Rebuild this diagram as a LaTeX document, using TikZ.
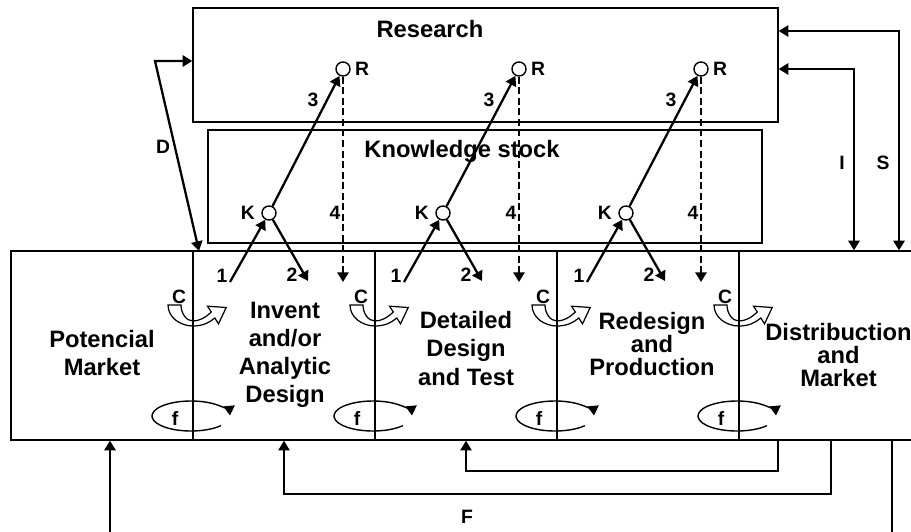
\documentclass[tikz,border=0pt]{standalone}
\usepackage{fontspec}
\setmainfont{Liberation Sans}
\usetikzlibrary{arrows.meta,positioning}

\begin{document}
\begin{tikzpicture}[
    >={Triangle[length=5.5pt,width=6.4pt]},
    box/.style={draw, line width=0.8pt, inner sep=0pt},
    title/.style={font=\fontsize{13.5}{16}\selectfont\bfseries},
    stage/.style={align=center, font=\fontsize{13.5}{16}\selectfont\bfseries},
    tight/.style={font=\fontsize{13.5}{13.2}\selectfont\bfseries},
    lab/.style={font=\fontsize{11}{12}\selectfont\bfseries, inner sep=0pt},
    dot/.style={draw, circle, fill=white, line width=0.8pt, minimum size=0.28cm, inner sep=0pt},
    flow/.style={->, line width=1.3pt},
    back/.style={->, line width=0.9pt},
    hollow/.style={draw, fill=white, line width=0.7pt}
]
    \useasboundingbox (0,0) rectangle (18.22,-10.62);

    % Boxes
    \node[box, minimum width=11.70cm, minimum height=2.28cm] (research) at (9.71,-1.30) {};
    \node[box, minimum width=11.08cm, minimum height=2.26cm] (stock) at (9.70,-3.73) {};
    \node[box, minimum width=18.40cm, minimum height=3.78cm] (main) at (9.42,-6.91) {};
    \node[title, anchor=base] (restitle) at (8.60,-0.74) {Research};
    \node[title, anchor=base] (stocktitle) at (9.24,-3.15) {Knowledge stock};

    % Stages
    \node[stage] (market) at (2.04,-7.06) {Potencial\\Market};
    \node[stage] (invent) at (5.70,-7.10) {Invent\\and/or\\Analytic\\Design};
    \node[stage] (detail) at (9.32,-6.97) {Detailed\\Design\\and Test};
    \node[stage, tight] (redesign) at (13.04,-6.88) {Redesign\\and\\Production};
    \node[stage, tight] (distrib) at (16.77,-7.10) {Distribuction\\and\\Market};

    % C turns and f loops at each border
    \foreach \d [count=\i] in {3.86,7.50,11.14,14.78} {
        \begin{scope}[shift={(\d,-6.52)}, x=0.02cm, y=-0.02cm]
            \draw[hollow] (-25,-21) .. controls (-25,-8) and (-12,0) .. (0,0)
                .. controls (9,0) and (16,-3) .. (21.8,-8) -- (25.5,-2.2) -- (33.2,-18.5)
                -- (14.5,-19.8) -- (18.3,-14) .. controls (12,-8) and (6,-5) .. (0,-5)
                .. controls (-7,-5) and (-12,-13) .. (-12,-21) -- cycle;
        \end{scope}
        \node[lab] (c\i) at (\d-0.28,-5.94) {C};
        \draw[->, line width=0.8pt] (\d-0.04,-8.32) ++(-40:0.78 and 0.30)
            arc[start angle=-40, end angle=-358, x radius=0.78, y radius=0.30];
        \node[lab] (f\i) at (\d-0.36,-8.36) {f};
        \draw[line width=0.8pt] (\d,0 |- main.north) -- (\d,0 |- main.south);
    }

    % Knowledge and research links
    \foreach \i/\kx/\rx in {1/5.38/6.86, 2/8.86/10.38, 3/12.52/14.02} {
        \node[dot] (K\i) at (\kx,-4.26) {};
        \node[dot] (R\i) at (\rx,-1.38) {};
        \node[lab, left=0.12cm of K\i] (kl\i) {K};
        \node[lab, right=0.08cm of R\i] (rl\i) {R};
        \coordinate (in\i) at (\kx-0.78,-5.64);
        \coordinate (out\i) at (\kx+0.78,-5.62);
        \coordinate (ret\i) at (\rx,-5.64);
        \draw[flow] (in\i) -- (K\i);
        \draw[flow] (K\i) -- (out\i);
        \draw[flow] (K\i) -- (R\i);
        \draw[flow, dash pattern=on 4pt off 2pt] (R\i) -- (ret\i);
        \node[lab] (one\i) at (\kx-0.94,-5.52) {1};
        \node[lab] (two\i) at (\kx+0.46,-5.50) {2};
        \node[lab] (three\i) at (\rx-0.60,-2.00) {3};
        \node[lab] (four\i) at (\rx-0.16,-4.26) {4};
    }

    % D, I and S
    \coordinate (dc) at (3.10,-1.22);
    \coordinate (dend) at (3.98,-5.02);
    \draw[<->, line width=1.3pt] (dc -| research.west) -- (dc) -- (dend);
    \node[lab] (dlab) at (3.26,-2.94) {D};
    \coordinate (sc) at (17.98,-0.62);
    \coordinate (ic) at (17.08,-1.38);
    \draw[<->, line width=1.3pt] (sc -| research.east) -- (sc) -- (sc |- main.north);
    \draw[<->, line width=1.3pt] (ic -| research.east) -- (ic) -- (ic |- main.north);
    \node[lab] (ilab) at (16.84,-3.26) {I};
    \node[lab] (slab) at (17.66,-3.26) {S};

    % Feedback below
    \coordinate (mk) at (2.20,-10.70);
    \draw[->, line width=1.3pt] (mk) -- (mk |- main.south);
    \coordinate (lo) at (16.62,-9.88);
    \coordinate (li) at (15.56,-9.42);
    \draw[back] (lo |- main.south) -- (lo) -| (5.68,0 |- main.south);
    \draw[back] (li |- main.south) -- (li) -| (9.32,0 |- main.south);
    \draw[line width=0.6pt] (17.84,0 |- main.south) -- (17.84,-10.70);
    \node[lab] (flab) at (9.34,-10.34) {F};
\end{tikzpicture}
\end{document}
